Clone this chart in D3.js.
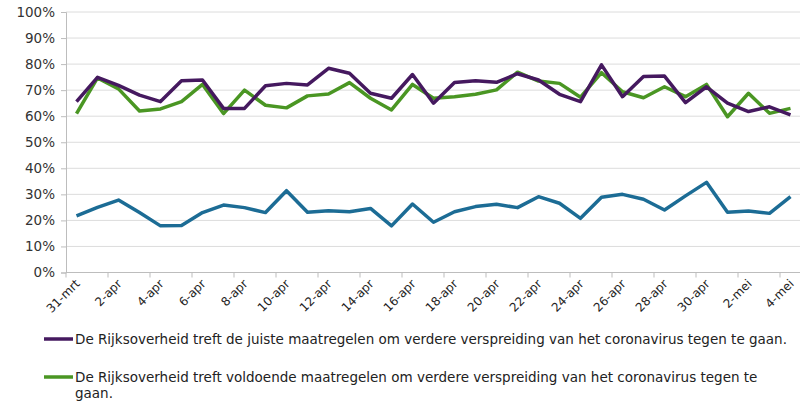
<!DOCTYPE html>
<html>
<head>
<meta charset="utf-8">
<script src="https://cdnjs.cloudflare.com/ajax/libs/d3/7.8.5/d3.min.js"></script>
<style>
  html, body { margin: 0; padding: 0; background: #fff; }
  svg { display: block; font-family: "DejaVu Sans", Verdana, sans-serif; }
</style>
</head>
<body>
<svg id="chart" width="800" height="402"></svg>
<script>
// dagen 31 mrt t/m 4 mei
const dates = ['31-mrt'];
for (let d = 1; d <= 30; d++) dates.push(d + '-apr');
for (let d = 1; d <= 4; d++) dates.push(d + '-mei');

const yTicks = [0, 0.1, 0.2, 0.3, 0.4, 0.5, 0.6, 0.7, 0.8, 0.9, 1];

// De Rijksoverheid treft de juiste maatregelen ...
const juiste = [65.6, 74.9, 71.8, 68.1, 65.6, 73.6, 73.9, 63.0, 63.0, 71.7, 72.6, 72.0,
  78.4, 76.5, 68.8, 66.9, 76.0, 65.0, 72.9, 73.6, 73.0, 76.3, 73.9, 68.4, 65.6, 79.7,
  67.5, 75.2, 75.4, 65.2, 71.3, 65.0, 61.8, 63.6, 60.5];

// De Rijksoverheid treft voldoende maatregelen ...
const voldoende = [61.0, 74.7, 70.5, 62.0, 62.8, 65.6, 72.2, 61.0, 70.0, 64.2, 63.2, 67.8,
  68.5, 72.9, 66.9, 62.4, 72.2, 66.9, 67.5, 68.4, 70.1, 76.9, 73.5, 72.6, 67.3, 76.7,
  69.4, 67.1, 71.3, 67.5, 72.2, 59.8, 68.8, 61.1, 63.0];

// derde reeks (blauw)
const derde = [21.7, 25.0, 27.8, 23.0, 17.9, 18.0, 23.0, 25.9, 24.9, 23.0, 31.4, 23.1,
  23.7, 23.3, 24.6, 17.9, 26.3, 19.3, 23.3, 25.3, 26.2, 24.9, 29.1, 26.6, 20.8, 28.9,
  30.0, 28.1, 24.0, 29.4, 34.6, 23.1, 23.6, 22.7, 29.1];

const series = [
  {values: juiste, color: '#45195f',
   label: ['De Rijksoverheid treft de juiste maatregelen om verdere verspreiding van het coronavirus tegen te gaan.']},
  {values: voldoende, color: '#4a9623',
   label: ['De Rijksoverheid treft voldoende maatregelen om verdere verspreiding van het coronavirus tegen te', 'gaan.']},
  {values: derde, color: '#1c6c95', label: null}
];

const svg = d3.select('#chart');
const plotL = 66, plotR = 801, plotT = 12, plotB = 272.5;

const x = d3.scaleBand().domain(dates).range([plotL, plotR]).paddingInner(0).paddingOuter(0);
const y = d3.scaleLinear().domain([0, 1]).range([plotB, plotT]);
const cx = d => x(d) + x.bandwidth() / 2;

// rasterlijnen
svg.append('g').selectAll('line')
  .data(yTicks.filter(t => t > 0))
  .enter().append('line')
  .attr('x1', plotL).attr('x2', 800)
  .attr('y1', d => y(d)).attr('y2', d => y(d))
  .attr('stroke', '#dcdcdc').attr('stroke-width', 1);

// y-as
const yAxis = svg.append('g')
  .attr('transform', `translate(${plotL},0)`)
  .call(d3.axisLeft(y).tickValues(yTicks).tickFormat(d3.format('.0%')).tickSize(5).tickPadding(6));
yAxis.select('.domain').attr('stroke', '#bdbdbd');
yAxis.selectAll('.tick line').attr('stroke', '#bdbdbd');
yAxis.selectAll('.tick text').attr('font-size', '13.5px').attr('fill', '#333')
  .attr('font-family', '"DejaVu Sans", Verdana, sans-serif');

// x-as
const xg = svg.append('g');
xg.append('line').attr('x1', plotL).attr('x2', 800).attr('y1', plotB).attr('y2', plotB)
  .attr('stroke', '#bdbdbd');
const shown = dates.filter((d, i) => i % 2 === 0);
xg.selectAll('line.tk').data(shown).enter().append('line').attr('class', 'tk')
  .attr('x1', d => x(d)).attr('x2', d => x(d))
  .attr('y1', plotB).attr('y2', plotB + 5)
  .attr('stroke', '#bdbdbd');
xg.selectAll('text').data(shown).enter().append('text')
  .attr('transform', d => `translate(${cx(d) + 4},${plotB + 12}) rotate(-45)`)
  .attr('text-anchor', 'end')
  .attr('font-size', '12px')
  .attr('fill', '#222')
  .text(d => d);

// lijnen
const line = d3.line().x((v, i) => cx(dates[i])).y(v => y(v / 100));
svg.append('g').selectAll('path')
  .data(series.slice().reverse())
  .enter().append('path')
  .attr('d', s => line(s.values))
  .attr('fill', 'none')
  .attr('stroke', s => s.color)
  .attr('stroke-width', 3.5)
  .attr('stroke-linejoin', 'round');

// legenda
const legend = svg.append('g');
const legendY = [339, 377];
series.filter(s => s.label).forEach((s, k) => {
  const g = legend.append('g').attr('transform', `translate(0,${legendY[k]})`);
  g.append('line').attr('x1', 44).attr('x2', 73).attr('y1', 0).attr('y2', 0)
    .attr('stroke', s.color).attr('stroke-width', 3.5);
  s.label.forEach((t, j) => {
    g.append('text').attr('x', 75).attr('y', 5 + j * 15.5)
      .attr('font-size', '13.5px').attr('fill', '#222')
      .text(t);
  });
});
</script>
</body>
</html>
